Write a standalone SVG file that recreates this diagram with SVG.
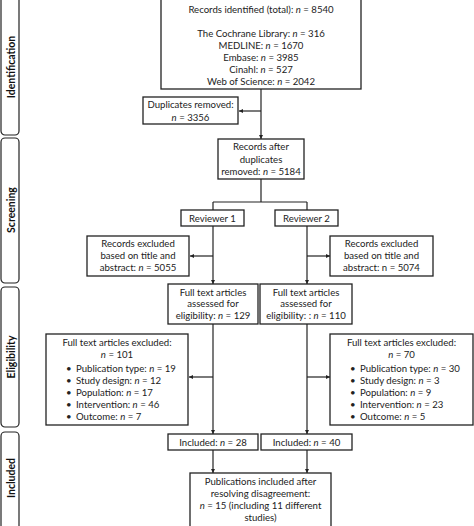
<svg xmlns="http://www.w3.org/2000/svg" width="474" height="526" viewBox="0 0 474 526">
<defs>
<marker id="ah" viewBox="0 0 6 6" refX="6" refY="3" markerWidth="4" markerHeight="4" orient="auto" markerUnits="userSpaceOnUse">
<path d="M0,0 L6,3 L0,6 z" fill="#222"/>
</marker>
<style>
.box{fill:#fff;stroke:#222;stroke-width:1.3}
.side{fill:#fff;stroke:#222;stroke-width:1.2}
.t{font-family:Lato,"Liberation Sans",sans-serif;font-size:9.6px;fill:#222;text-anchor:middle}
.l{font-family:Lato,"Liberation Sans",sans-serif;font-size:9.6px;fill:#222}
.s{font-family:Lato,"Liberation Sans",sans-serif;font-size:10.5px;font-weight:bold;fill:#111;text-anchor:middle}
.c{fill:none;stroke:#222;stroke-width:1.2}
</style>
</defs>
<rect width="474" height="526" fill="#fff"/>
<g id="sidebar">
<rect class="side" x="1" y="-4" width="18" height="139" rx="4"/>
<rect class="side" x="1" y="138" width="18" height="145" rx="4"/>
<rect class="side" x="1" y="287" width="18" height="140" rx="4"/>
<rect class="side" x="1" y="432" width="18" height="98" rx="4"/>
<text class="s" transform="translate(14.5,67) rotate(-90)">Identification</text>
<text class="s" transform="translate(14.5,210) rotate(-90)">Screening</text>
<text class="s" transform="translate(14.5,357) rotate(-90)">Eligibility</text>
<text class="s" transform="translate(14.5,478) rotate(-90)">Included</text>
</g>
<g id="connectors">
<path class="c" d="M261,89 V139" marker-end="url(#ah)"/>
<path class="c" d="M261,111 H239" marker-end="url(#ah)"/>
<path class="c" d="M261,179 V202 M213,202 H307 M213,202 V210 M307,202 V210"/>
<path class="c" d="M213,226 V284" marker-end="url(#ah)"/>
<path class="c" d="M307,226 V284" marker-end="url(#ah)"/>
<path class="c" d="M213,256 H190" marker-end="url(#ah)"/>
<path class="c" d="M307,256 H330" marker-end="url(#ah)"/>
<path class="c" d="M213,324 V434" marker-end="url(#ah)"/>
<path class="c" d="M307,324 V434" marker-end="url(#ah)"/>
<path class="c" d="M213,377 H189" marker-end="url(#ah)"/>
<path class="c" d="M307,377 H330" marker-end="url(#ah)"/>
<path class="c" d="M213,450 V473" marker-end="url(#ah)"/>
<path class="c" d="M307,450 V473" marker-end="url(#ah)"/>
</g>
<g id="identified">
<rect class="box" x="161" y="-2" width="200" height="91"/>
<text class="t" x="261" y="13">Records identified (total): <tspan font-style="italic">n</tspan> = 8540</text>
<text class="t" x="261" y="37">The Cochrane Library: <tspan font-style="italic">n</tspan> = 316</text>
<text class="t" x="261" y="49">MEDLINE: <tspan font-style="italic">n</tspan> = 1670</text>
<text class="t" x="261" y="61">Embase: <tspan font-style="italic">n</tspan> = 3985</text>
<text class="t" x="261" y="73">Cinahl: <tspan font-style="italic">n</tspan> = 527</text>
<text class="t" x="261" y="85">Web of Science: <tspan font-style="italic">n</tspan> = 2042</text>
</g>
<g id="duplicates">
<rect class="box" x="143" y="97" width="95" height="27"/>
<text class="t" x="190.5" y="108">Duplicates removed:</text>
<text class="t" x="190.5" y="121"><tspan font-style="italic">n</tspan> =  3356</text>
</g>
<g id="after">
<rect class="box" x="218" y="139" width="86" height="40"/>
<text class="t" x="261" y="150">Records after</text>
<text class="t" x="261" y="163">duplicates</text>
<text class="t" x="261" y="175">removed: <tspan font-style="italic">n</tspan> =  5184</text>
</g>
<g id="reviewer1">
<rect class="box" x="181" y="210" width="63" height="16"/>
<text class="t" x="212.5" y="221.5">Reviewer 1</text>
</g>
<g id="reviewer2">
<rect class="box" x="275" y="210" width="63" height="16"/>
<text class="t" x="306.5" y="221.5">Reviewer 2</text>
</g>
<g id="excl1">
<rect class="box" x="87" y="236" width="102" height="40"/>
<text class="t" x="138" y="247">Records excluded</text>
<text class="t" x="138" y="259">based on title and</text>
<text class="t" x="138" y="271">abstract: <tspan font-style="italic">n</tspan> = 5055</text>
</g>
<g id="excl2">
<rect class="box" x="330" y="236" width="103" height="40"/>
<text class="t" x="381.5" y="247">Records excluded</text>
<text class="t" x="381.5" y="259">based on title and</text>
<text class="t" x="381.5" y="271">abstract: n =  5074</text>
</g>
<g id="full1">
<rect class="box" x="168" y="284" width="90" height="40"/>
<text class="t" x="213" y="296">Full text articles</text>
<text class="t" x="213" y="307">assessed for</text>
<text class="t" x="213" y="319">eligibility: <tspan font-style="italic">n</tspan> =  129</text>
</g>
<g id="full2">
<rect class="box" x="260" y="284" width="92" height="40"/>
<text class="t" x="306" y="296">Full text articles</text>
<text class="t" x="306" y="307">assessed for</text>
<text class="t" x="306" y="319">eligibility: : <tspan font-style="italic">n</tspan> =  110</text>
</g>
<g id="fexcl1">
<rect class="box" x="46" y="334" width="142" height="91"/>
<text class="t" x="117" y="346">Full text articles excluded:</text>
<text class="t" x="117" y="357.5"><tspan font-style="italic">n</tspan> = 101</text>
<text class="l" x="66" y="372">•</text><text class="l" x="76" y="372">Publication type: <tspan font-style="italic">n</tspan> = 19</text>
<text class="l" x="66" y="384">•</text><text class="l" x="76" y="384">Study design: <tspan font-style="italic">n</tspan> = 12</text>
<text class="l" x="66" y="396">•</text><text class="l" x="76" y="396">Population: <tspan font-style="italic">n</tspan> = 17</text>
<text class="l" x="66" y="408">•</text><text class="l" x="76" y="408">Intervention: <tspan font-style="italic">n</tspan> = 46</text>
<text class="l" x="66" y="420">•</text><text class="l" x="76" y="420">Outcome: <tspan font-style="italic">n</tspan> = 7</text>
</g>
<g id="fexcl2">
<rect class="box" x="330" y="334" width="143" height="91"/>
<text class="t" x="401.5" y="346">Full text articles excluded:</text>
<text class="t" x="401.5" y="357.5"><tspan font-style="italic">n</tspan> = 70</text>
<text class="l" x="350" y="372">•</text><text class="l" x="360" y="372">Publication type: <tspan font-style="italic">n</tspan> = 30</text>
<text class="l" x="350" y="384">•</text><text class="l" x="360" y="384">Study design: <tspan font-style="italic">n</tspan> = 3</text>
<text class="l" x="350" y="396">•</text><text class="l" x="360" y="396">Population: <tspan font-style="italic">n</tspan> = 9</text>
<text class="l" x="350" y="408">•</text><text class="l" x="360" y="408">Intervention: <tspan font-style="italic">n</tspan> = 23</text>
<text class="l" x="350" y="420">•</text><text class="l" x="360" y="420">Outcome: <tspan font-style="italic">n</tspan> = 5</text>
</g>
<g id="inc1">
<rect class="box" x="168" y="434" width="90" height="16"/>
<text class="t" x="213" y="445.5">Included: <tspan font-style="italic">n</tspan> = 28</text>
</g>
<g id="inc2">
<rect class="box" x="261" y="434" width="91" height="16"/>
<text class="t" x="306.5" y="445.5">Included: <tspan font-style="italic">n</tspan> = 40</text>
</g>
<g id="final">
<rect class="box" x="190" y="473" width="141" height="56"/>
<text class="t" x="260.5" y="485">Publications included after</text>
<text class="t" x="260.5" y="497">resolving disagreement:</text>
<text class="t" x="260.5" y="509"><tspan font-style="italic">n</tspan> = 15 (including 11 different</text>
<text class="t" x="260.5" y="521">studies)</text>
</g>
</svg>
